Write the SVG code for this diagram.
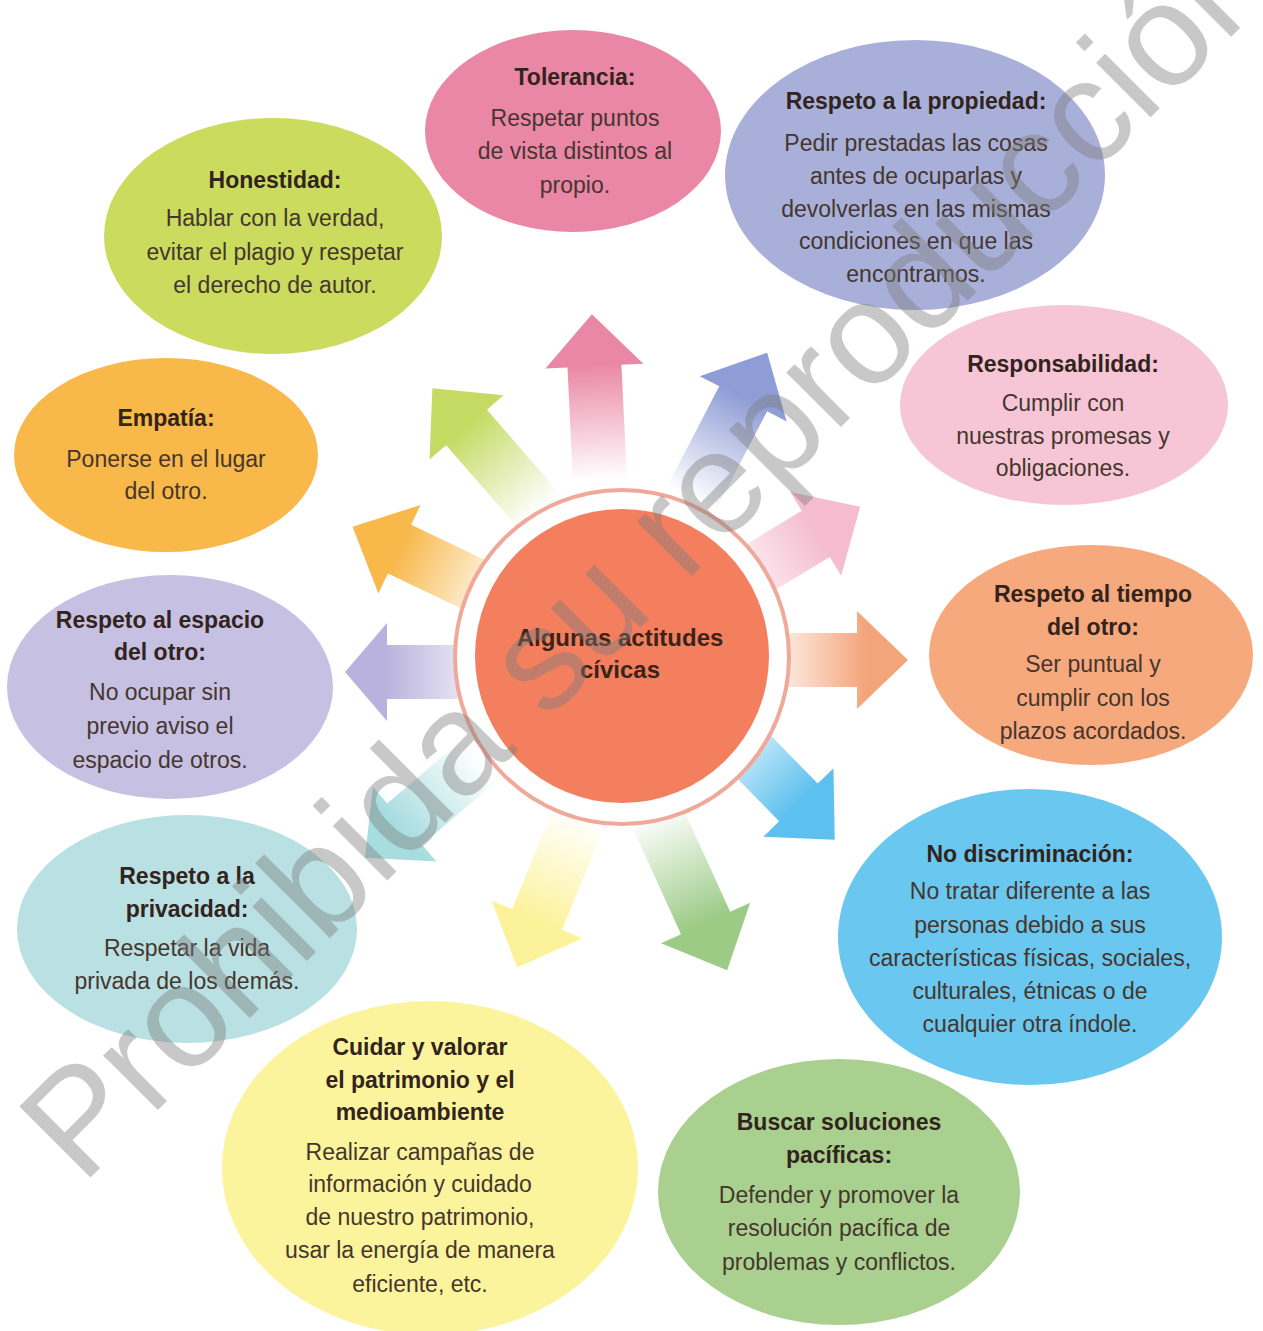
<svg xmlns="http://www.w3.org/2000/svg" width="1263" height="1331" viewBox="0 0 1263 1331">
<style>
.t{font-family:"Liberation Sans",Arial,sans-serif;font-size:23px;fill:#45362e;text-anchor:middle}
.h{font-weight:bold;fill:#32241d}
.wm{font-family:"Liberation Sans",Arial,sans-serif;font-size:146px;fill:#7d7d7d;fill-opacity:0.42}
</style>
<defs>
<linearGradient id="gPink" x1="0" y1="0" x2="1" y2="0"><stop offset="0" stop-color="#ea86a6" stop-opacity="0"/><stop offset="0.7" stop-color="#ea86a6"/></linearGradient>
<linearGradient id="gGreen" x1="0" y1="0" x2="1" y2="0"><stop offset="0" stop-color="#c5da62" stop-opacity="0"/><stop offset="0.7" stop-color="#c5da62"/></linearGradient>
<linearGradient id="gBlue" x1="0" y1="0" x2="1" y2="0"><stop offset="0" stop-color="#8f9dd6" stop-opacity="0"/><stop offset="0.7" stop-color="#8f9dd6"/></linearGradient>
<linearGradient id="gLPink" x1="0" y1="0" x2="1" y2="0"><stop offset="0" stop-color="#f5bccf" stop-opacity="0"/><stop offset="0.7" stop-color="#f5bccf"/></linearGradient>
<linearGradient id="gOrange" x1="0" y1="0" x2="1" y2="0"><stop offset="0" stop-color="#f8b84a" stop-opacity="0"/><stop offset="0.7" stop-color="#f8b84a"/></linearGradient>
<linearGradient id="gLav" x1="0" y1="0" x2="1" y2="0"><stop offset="0" stop-color="#b9b2de" stop-opacity="0.2"/><stop offset="0.7" stop-color="#b9b2de"/></linearGradient>
<linearGradient id="gSalmon" x1="0" y1="0" x2="1" y2="0"><stop offset="0" stop-color="#f4a47a" stop-opacity="0.1"/><stop offset="0.7" stop-color="#f4a47a"/></linearGradient>
<linearGradient id="gSky" x1="0" y1="0" x2="1" y2="0"><stop offset="0" stop-color="#5ec0ee" stop-opacity="0"/><stop offset="0.7" stop-color="#5ec0ee"/></linearGradient>
<linearGradient id="gDGreen" x1="0" y1="0" x2="1" y2="0"><stop offset="0" stop-color="#9ccb86" stop-opacity="0"/><stop offset="0.7" stop-color="#9ccb86"/></linearGradient>
<linearGradient id="gYellow" x1="0" y1="0" x2="1" y2="0"><stop offset="0" stop-color="#fcf29a" stop-opacity="0"/><stop offset="0.7" stop-color="#fcf29a"/></linearGradient>
<linearGradient id="gTeal" x1="0" y1="0" x2="1" y2="0"><stop offset="0" stop-color="#a8dde0" stop-opacity="0"/><stop offset="0.7" stop-color="#a8dde0"/></linearGradient>
</defs>
<rect width="1263" height="1331" fill="#ffffff"/>

<g id="connectors">
<path transform="translate(600,480) rotate(-92.8)" d="M0,-27 L114,-27 L114,-49 L166,0 L114,49 L114,27 L0,27 Z" fill="url(#gPink)"/>
<path transform="translate(540,512) rotate(-131)" d="M0,-27 L112,-27 L112,-49 L164,0 L112,49 L112,27 L0,27 Z" fill="url(#gGreen)"/>
<path transform="translate(691,499) rotate(-62.5)" d="M0,-27 L113,-27 L113,-49 L165,0 L113,49 L113,27 L0,27 Z" fill="url(#gBlue)"/>
<path transform="translate(720,592) rotate(-31.3)" d="M0,-27 L112,-27 L112,-49 L164,0 L112,49 L112,27 L0,27 Z" fill="url(#gLPink)"/>
<path transform="translate(506,600) rotate(-154.5)" d="M0,-27 L118,-27 L118,-49 L170,0 L118,49 L118,27 L0,27 Z" fill="url(#gOrange)"/>
<path transform="translate(480,672) rotate(180)" d="M0,-27 L93,-27 L93,-49 L135,0 L93,49 L93,27 L0,27 Z" fill="url(#gLav)"/>
<path transform="translate(770,660)" d="M0,-27 L87,-27 L87,-49 L138,0 L87,49 L87,27 L0,27 Z" fill="url(#gSalmon)"/>
<path transform="translate(716,718) rotate(45.7)" d="M0,-27 L118,-27 L118,-49 L170,0 L118,49 L118,27 L0,27 Z" fill="url(#gSky)"/>
<path transform="translate(655,812) rotate(65.5)" d="M0,-27 L122,-27 L122,-49 L174,0 L122,49 L122,27 L0,27 Z" fill="url(#gDGreen)"/>
<path transform="translate(580,815) rotate(112.4)" d="M0,-27 L113,-27 L113,-49 L165,0 L113,49 L113,27 L0,27 Z" fill="url(#gYellow)"/>
<path transform="translate(480,760) rotate(139.6)" d="M0,-27 L99,-27 L99,-49 L151,0 L99,49 L99,27 L0,27 Z" fill="url(#gTeal)"/>
</g>

<g id="center">
<circle cx="622" cy="657" r="167" fill="#ffffff" stroke="#f0a898" stroke-width="4"/>
<circle cx="622" cy="656" r="147" fill="#f37f5f"/>
<text class="t h" x="620" y="646" style="font-size:24px;fill:#3a2418">Algunas actitudes</text>
<text class="t h" x="620" y="678" style="font-size:24px;fill:#3a2418">cívicas</text>
</g>

<g id="tolerancia">
<ellipse cx="573" cy="131" rx="148" ry="101" fill="#ea86a6"/>
<text class="t h" x="575" y="85">Tolerancia:</text>
<text class="t" x="575" y="126">Respetar puntos</text>
<text class="t" x="575" y="159">de vista distintos al</text>
<text class="t" x="575" y="193">propio.</text>
</g>

<g id="propiedad">
<ellipse cx="915" cy="175" rx="190" ry="135" fill="#a8b0da"/>
<text class="t h" x="916" y="109">Respeto a la propiedad:</text>
<text class="t" x="916" y="151">Pedir prestadas las cosas</text>
<text class="t" x="916" y="184">antes de ocuparlas y</text>
<text class="t" x="916" y="217">devolverlas en las mismas</text>
<text class="t" x="916" y="249">condiciones en que las</text>
<text class="t" x="916" y="282">encontramos.</text>
</g>

<g id="honestidad">
<ellipse cx="273" cy="236" rx="169" ry="118" fill="#cadb5e"/>
<text class="t h" x="275" y="188">Honestidad:</text>
<text class="t" x="275" y="226">Hablar con la verdad,</text>
<text class="t" x="275" y="260">evitar el plagio y respetar</text>
<text class="t" x="275" y="293">el derecho de autor.</text>
</g>

<g id="responsabilidad">
<ellipse cx="1064" cy="405" rx="164" ry="100" fill="#f7c6d6"/>
<text class="t h" x="1063" y="372">Responsabilidad:</text>
<text class="t" x="1063" y="411">Cumplir con</text>
<text class="t" x="1063" y="444">nuestras promesas y</text>
<text class="t" x="1063" y="476">obligaciones.</text>
</g>

<g id="empatia">
<ellipse cx="166" cy="455" rx="152" ry="97" fill="#f8b84a"/>
<text class="t h" x="166" y="426">Empatía:</text>
<text class="t" x="166" y="467">Ponerse en el lugar</text>
<text class="t" x="166" y="499">del otro.</text>
</g>

<g id="tiempo">
<ellipse cx="1091" cy="655" rx="162" ry="110" fill="#f6a97d"/>
<text class="t h" x="1093" y="602">Respeto al tiempo</text>
<text class="t h" x="1093" y="635">del otro:</text>
<text class="t" x="1093" y="672">Ser puntual y</text>
<text class="t" x="1093" y="706">cumplir con los</text>
<text class="t" x="1093" y="739">plazos acordados.</text>
</g>

<g id="espacio">
<ellipse cx="170" cy="687" rx="163" ry="112" fill="#c6c0e2"/>
<text class="t h" x="160" y="628">Respeto al espacio</text>
<text class="t h" x="160" y="660">del otro:</text>
<text class="t" x="160" y="700">No ocupar sin</text>
<text class="t" x="160" y="734">previo aviso el</text>
<text class="t" x="160" y="768">espacio de otros.</text>
</g>

<g id="discriminacion">
<ellipse cx="1030" cy="937" rx="192" ry="148" fill="#6ac7ef"/>
<text class="t h" x="1030" y="862">No discriminación:</text>
<text class="t" x="1030" y="899">No tratar diferente a las</text>
<text class="t" x="1030" y="933">personas debido a sus</text>
<text class="t" x="1030" y="966">características físicas, sociales,</text>
<text class="t" x="1030" y="999">culturales, étnicas o de</text>
<text class="t" x="1030" y="1032">cualquier otra índole.</text>
</g>

<g id="privacidad">
<ellipse cx="187" cy="929" rx="170" ry="114" fill="#b9e0e2"/>
<text class="t h" x="187" y="884">Respeto a la</text>
<text class="t h" x="187" y="917">privacidad:</text>
<text class="t" x="187" y="956">Respetar la vida</text>
<text class="t" x="187" y="989">privada de los demás.</text>
</g>

<g id="cuidar">
<ellipse cx="430" cy="1168" rx="208" ry="167" fill="#fbf49c"/>
<text class="t h" x="420" y="1055">Cuidar y valorar</text>
<text class="t h" x="420" y="1088">el patrimonio y el</text>
<text class="t h" x="420" y="1120">medioambiente</text>
<text class="t" x="420" y="1160">Realizar campañas de</text>
<text class="t" x="420" y="1192">información y cuidado</text>
<text class="t" x="420" y="1225">de nuestro patrimonio,</text>
<text class="t" x="420" y="1258">usar la energía de manera</text>
<text class="t" x="420" y="1292">eficiente, etc.</text>
</g>

<g id="soluciones">
<ellipse cx="839" cy="1192" rx="181" ry="133" fill="#a9d08f"/>
<text class="t h" x="839" y="1130">Buscar soluciones</text>
<text class="t h" x="839" y="1163">pacíficas:</text>
<text class="t" x="839" y="1203">Defender y promover la</text>
<text class="t" x="839" y="1236">resolución pacífica de</text>
<text class="t" x="839" y="1270">problemas y conflictos.</text>
</g>

<g id="watermark">
<text class="wm" transform="translate(82,1186) rotate(-45)">Prohibida su reproducción</text>
</g>
</svg>
